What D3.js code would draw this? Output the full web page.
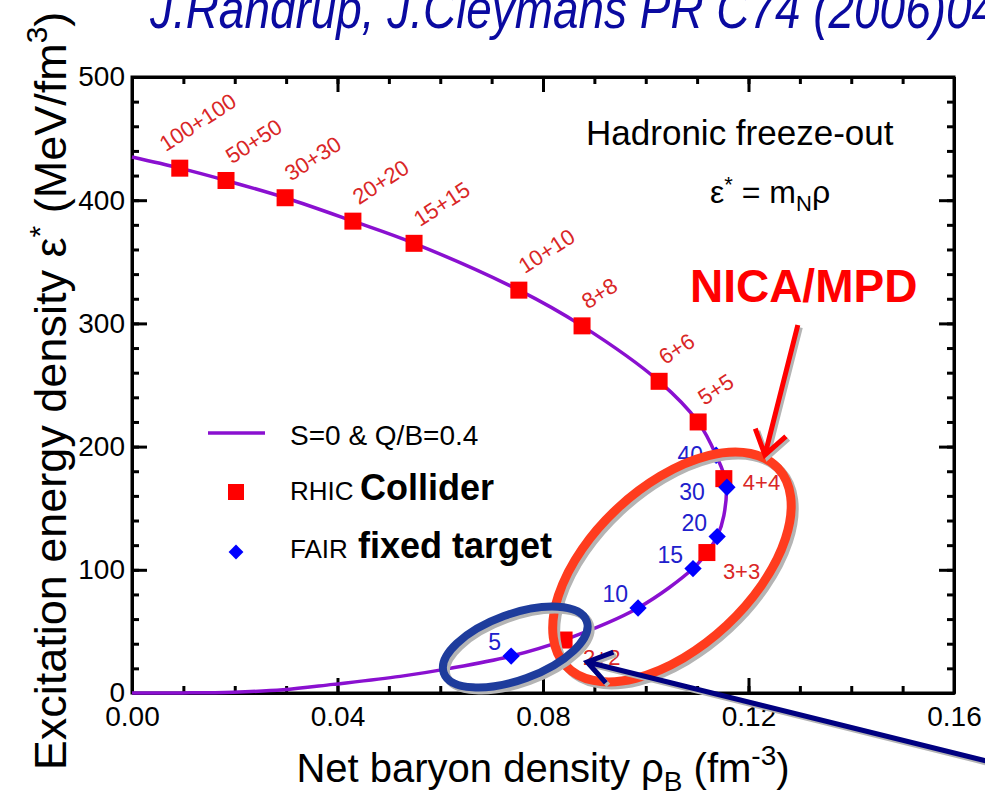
<!DOCTYPE html>
<meta charset="utf-8">
<style>
body { margin: 0; background: #fff; }
svg text { font-family: "Liberation Sans", Arial, Helvetica, sans-serif; }
.axis path, .axis line { stroke: #000; stroke-width: 3px; }
.axis text { font-size: 28px; fill: #000; font-family: "Liberation Sans", Arial, sans-serif; }
</style>
<body>
<script src="https://d3js.org/d3.v7.min.js"></script>
<script>

// freeze-out curve (S=0 & Q/B=0.4)
var curveRho = [0, 0.0093, 0.0183, 0.0298, 0.0430, 0.0549, 0.0753, 0.0876, 0.1026, 0.1102,
                0.1137, 0.1156, 0.1152, 0.1139, 0.1119, 0.1092, 0.0985, 0.0841, 0.0738,
                0.0619, 0.0522, 0.0391, 0.0294, 0.0197, 0.0099, 0];
var curveEps = [435, 426, 416, 402, 383, 365, 327, 298, 253, 220,
                193, 171, 144, 127, 114, 101, 69, 43, 30,
                20, 13.5, 7, 2.6, 0.7, 0.1, 0];

// RHIC (collider) points
var rhicLabels = ["100+100", "50+50", "30+30", "20+20", "15+15", "10+10", "8+8", "6+6", "5+5", "4+4", "3+3", "2+2"];
var rhicRho = [0.0093, 0.0183, 0.0298, 0.0430, 0.0549, 0.0753, 0.0876, 0.1026, 0.1102, 0.1152, 0.1119, 0.0841];
var rhicEps = [426, 416, 402, 383, 365, 327, 298, 253, 220, 174, 114, 43];

// FAIR (fixed target) points
var fairLabels = ["40", "30", "20", "15", "10", "5"];
var fairRho = [0.1137, 0.1158, 0.1139, 0.1092, 0.0985, 0.0738];
var fairEps = [193, 167, 127, 101, 69, 30];

var xTicks = [0, 0.04, 0.08, 0.12, 0.16];
var xTickLabels = ["0.00", "0.04", "0.08", "0.12", "0.16"];
var yTicks = [0, 100, 200, 300, 400, 500];
var yTickLabels = ["0", "100", "200", "300", "400", "500"];

var W = 985, H = 803;
var margin = {top: 77, right: 31, bottom: 110, left: 132},
    width = W - margin.left - margin.right,
    height = H - margin.top - margin.bottom;

var svg = d3.select("body").append("svg")
    .attr("width", W)
    .attr("height", H);

var g = svg.append("g")
    .attr("transform", "translate(" + margin.left + "," + margin.top + ")");

var x = d3.scaleLinear().domain([0, 0.16]).range([0, width]);
var y = d3.scaleLinear().domain([0, 500]).range([height, 0]);

// minor ticks, all four sides, pointing inward
g.append("g").attr("class", "axis").attr("transform", "translate(0," + height + ")")
    .call(d3.axisBottom(x).ticks(16).tickSizeInner(-7).tickSizeOuter(0).tickFormat(""));
g.append("g").attr("class", "axis")
    .call(d3.axisTop(x).ticks(16).tickSizeInner(-7).tickSizeOuter(0).tickFormat(""));
g.append("g").attr("class", "axis")
    .call(d3.axisLeft(y).ticks(25).tickSizeInner(-7).tickSizeOuter(0).tickFormat(""));
g.append("g").attr("class", "axis").attr("transform", "translate(" + width + ",0)")
    .call(d3.axisRight(y).ticks(25).tickSizeInner(-7).tickSizeOuter(0).tickFormat(""));

// major ticks
g.append("g").attr("class", "axis").attr("transform", "translate(0," + height + ")")
    .call(d3.axisBottom(x).tickValues(xTicks).tickSizeInner(-15).tickSizeOuter(0).tickPadding(13)
        .tickFormat(function(d, i) { return xTickLabels[i]; }));
g.append("g").attr("class", "axis")
    .call(d3.axisTop(x).tickValues(xTicks).tickSizeInner(-15).tickSizeOuter(0).tickFormat(""));
g.append("g").attr("class", "axis")
    .call(d3.axisLeft(y).tickValues(yTicks).tickSizeInner(-15).tickSizeOuter(0).tickPadding(7)
        .tickFormat(function(d, i) { return yTickLabels[i]; }));
g.append("g").attr("class", "axis").attr("transform", "translate(" + width + ",0)")
    .call(d3.axisRight(y).tickValues(yTicks).tickSizeInner(-15).tickSizeOuter(0).tickFormat(""));

g.append("rect")
    .attr("width", width).attr("height", height)
    .attr("fill", "none").attr("stroke", "#000").attr("stroke-width", 3);

// axis titles
var xt = svg.append("text")
    .attr("x", margin.left + width / 2).attr("y", 782)
    .attr("text-anchor", "middle").style("font-size", "40px");
xt.append("tspan").text("Net baryon density \u03c1");
xt.append("tspan").attr("dy", 9).style("font-size", "28px").text("B");
xt.append("tspan").attr("dy", -9).text(" (fm");
xt.append("tspan").attr("dy", -17).style("font-size", "28px").text("-3");
xt.append("tspan").attr("dy", 17).text(")");

var yt = svg.append("text")
    .attr("transform", "translate(66," + (margin.top + height / 2 + 6) + ") rotate(-90)")
    .attr("text-anchor", "middle").style("font-size", "45px");
yt.append("tspan").text("Excitation energy density \u03b5");
yt.append("tspan").attr("dy", -16).style("font-size", "30px").text("*");
yt.append("tspan").attr("dy", 16).text(" (MeV/fm");
yt.append("tspan").attr("dy", -19).style("font-size", "30px").text("3");
yt.append("tspan").attr("dy", 19).text(")");

// curve
var line = d3.line()
    .x(function(d) { return x(d[0]); })
    .y(function(d) { return y(d[1]); })
    .curve(d3.curveCatmullRom.alpha(0.5));

g.append("path")
    .datum(d3.zip(curveRho, curveEps))
    .attr("d", line)
    .attr("fill", "none")
    .attr("stroke", "#8a10d0")
    .attr("stroke-width", 3.5);

// markers
var rhic = rhicLabels.map(function(l, i) { return {label: l, rho: rhicRho[i], eps: rhicEps[i]}; });
var fair = fairLabels.map(function(l, i) { return {label: l, rho: fairRho[i], eps: fairEps[i]}; });

var sq = 17;
g.selectAll(".rhic").data(rhic).enter().append("rect")
    .attr("class", "rhic")
    .attr("x", function(d) { return x(d.rho) - sq / 2; })
    .attr("y", function(d) { return y(d.eps) - sq / 2; })
    .attr("width", sq).attr("height", sq)
    .attr("fill", "#ff0000");

var diamond = d3.symbol().type(d3.symbolSquare).size(150);
g.selectAll(".fair").data(fair).enter().append("path")
    .attr("class", "fair")
    .attr("d", diamond)
    .attr("transform", function(d) { return "translate(" + x(d.rho) + "," + y(d.eps) + ") rotate(45)"; })
    .attr("fill", "#0000ff");

// labels
var flatLabels = {"4+4": [19, 11], "3+3": [16, 26], "2+2": [19, 25]};
g.selectAll(".rlab").data(rhic).enter().append("text")
    .attr("class", "rlab")
    .attr("transform", function(d) {
        var px = x(d.rho), py = y(d.eps), f = flatLabels[d.label];
        if (f) return "translate(" + (px + f[0]) + "," + (py + f[1]) + ")";
        var dx = d.label === "100+100" ? -14 : 6;
        return "translate(" + (px + dx) + "," + (py - 16) + ") rotate(-33)";
    })
    .style("font-size", "22px")
    .attr("fill", "#d92626")
    .text(function(d) { return d.label; });

var fairOffsets = {"40": [-13, 8], "30": [-22, 13]};
g.selectAll(".flab").data(fair).enter().append("text")
    .attr("class", "flab")
    .attr("x", function(d) { return x(d.rho) + (fairOffsets[d.label] ? fairOffsets[d.label][0] : -10); })
    .attr("y", function(d) { return y(d.eps) + (fairOffsets[d.label] ? fairOffsets[d.label][1] : -6); })
    .attr("text-anchor", "end")
    .style("font-size", "23px")
    .attr("fill", "#2020cc")
    .text(function(d) { return d.label; });

// legend
var lg = svg.append("g");
lg.append("line").attr("x1", 208).attr("x2", 265).attr("y1", 433).attr("y2", 433)
    .attr("stroke", "#8a10d0").attr("stroke-width", 3.5);
lg.append("text").attr("x", 290).attr("y", 445).style("font-size", "28px").text("S=0 & Q/B=0.4");
lg.append("rect").attr("x", 236 - 8).attr("y", 492 - 8).attr("width", 16).attr("height", 16).attr("fill", "#ff0000");
lg.append("text").attr("x", 290).attr("y", 500).style("font-size", "26px").text("RHIC");
lg.append("text").attr("x", 360).attr("y", 500).style("font-size", "36px").style("font-weight", "bold").text("Collider");
lg.append("path").attr("d", d3.symbol().type(d3.symbolSquare).size(110))
    .attr("transform", "translate(236,552) rotate(45)").attr("fill", "#0000ff");
lg.append("text").attr("x", 290).attr("y", 558).style("font-size", "26px").text("FAIR");
lg.append("text").attr("x", 358).attr("y", 558).style("font-size", "36px").style("font-weight", "bold").text("fixed target");

// in-plot notes
g.append("text").attr("x", x(0.1183)).attr("y", y(444.8)).attr("text-anchor", "middle")
    .style("font-size", "35px").text("Hadronic freeze-out");
var eq = g.append("text").attr("x", x(0.1242)).attr("y", y(397.7)).attr("text-anchor", "middle")
    .style("font-size", "32px");
eq.append("tspan").text("\u03b5");
eq.append("tspan").attr("dy", -11).style("font-size", "22px").text("*");
eq.append("tspan").attr("dy", 11).text(" = m");
eq.append("tspan").attr("dy", 8).style("font-size", "22px").text("N");
eq.append("tspan").attr("dy", -8).text("\u03c1");

// annotations (positions in data units)
var redEllipse = {rho: 0.1051, eps: 102.3, rx: 145, ry: 80, angle: -43};
var blueEllipse = {rho: 0.0746, eps: 37.3, rx: 76, ry: 33, angle: -20};
var redArrow = {from: [0.1296, 298.7], to: [0.1232, 193.2]};
var blueArrow = {from: [0.1690, -58], to: [0.0886, 25.2]};

var ann = g.append("g");

function ellipse(e, color, w) {
    var cx = x(e.rho), cy = y(e.eps);
    [["#b4b4b4", 3], [color, 0]].forEach(function(s) {
        ann.append("ellipse")
            .attr("cx", cx + s[1]).attr("cy", cy + s[1])
            .attr("rx", e.rx).attr("ry", e.ry)
            .attr("transform", "rotate(" + e.angle + "," + (cx + s[1]) + "," + (cy + s[1]) + ")")
            .attr("fill", "none").attr("stroke", s[0]).attr("stroke-width", w);
    });
}

function arrow(a, color, w) {
    var x0 = x(a.from[0]), y0 = y(a.from[1]), x1 = x(a.to[0]), y1 = y(a.to[1]);
    var ang = Math.atan2(y0 - y1, x0 - x1), L = 28, spread = 0.6;
    var d = "M" + x0 + "," + y0 + "L" + x1 + "," + y1 +
        "M" + (x1 + L * Math.cos(ang + spread)) + "," + (y1 + L * Math.sin(ang + spread)) +
        "L" + x1 + "," + y1 +
        "L" + (x1 + L * Math.cos(ang - spread)) + "," + (y1 + L * Math.sin(ang - spread));
    [["#b4b4b4", 2.5], [color, 0]].forEach(function(s) {
        ann.append("path").attr("d", d)
            .attr("transform", "translate(" + s[1] + "," + s[1] + ")")
            .attr("fill", "none").attr("stroke", s[0]).attr("stroke-width", w)
            .attr("stroke-linejoin", "miter").attr("stroke-linecap", "butt");
    });
}

ellipse(redEllipse, "#ff3c1e", 9);
ellipse(blueEllipse, "#1e3c9c", 8);
arrow(redArrow, "#ff0000", 5);
arrow(blueArrow, "#000080", 5);

g.append("text").attr("x", x(0.1086)).attr("y", y(317.4))
    .style("font-size", "46px").style("font-weight", "bold").attr("fill", "#ff0000")
    .text("NICA/MPD");

// reference line at the top, cut by the page edge
svg.append("text")
    .attr("transform", "translate(150,28) scale(0.82,1)")
    .style("font-size", "56px").style("font-style", "italic")
    .attr("fill", "#0a0aa0")
    .text("J.Randrup, J.Cleymans PR C74 (2006)047901");

</script>
</body>
